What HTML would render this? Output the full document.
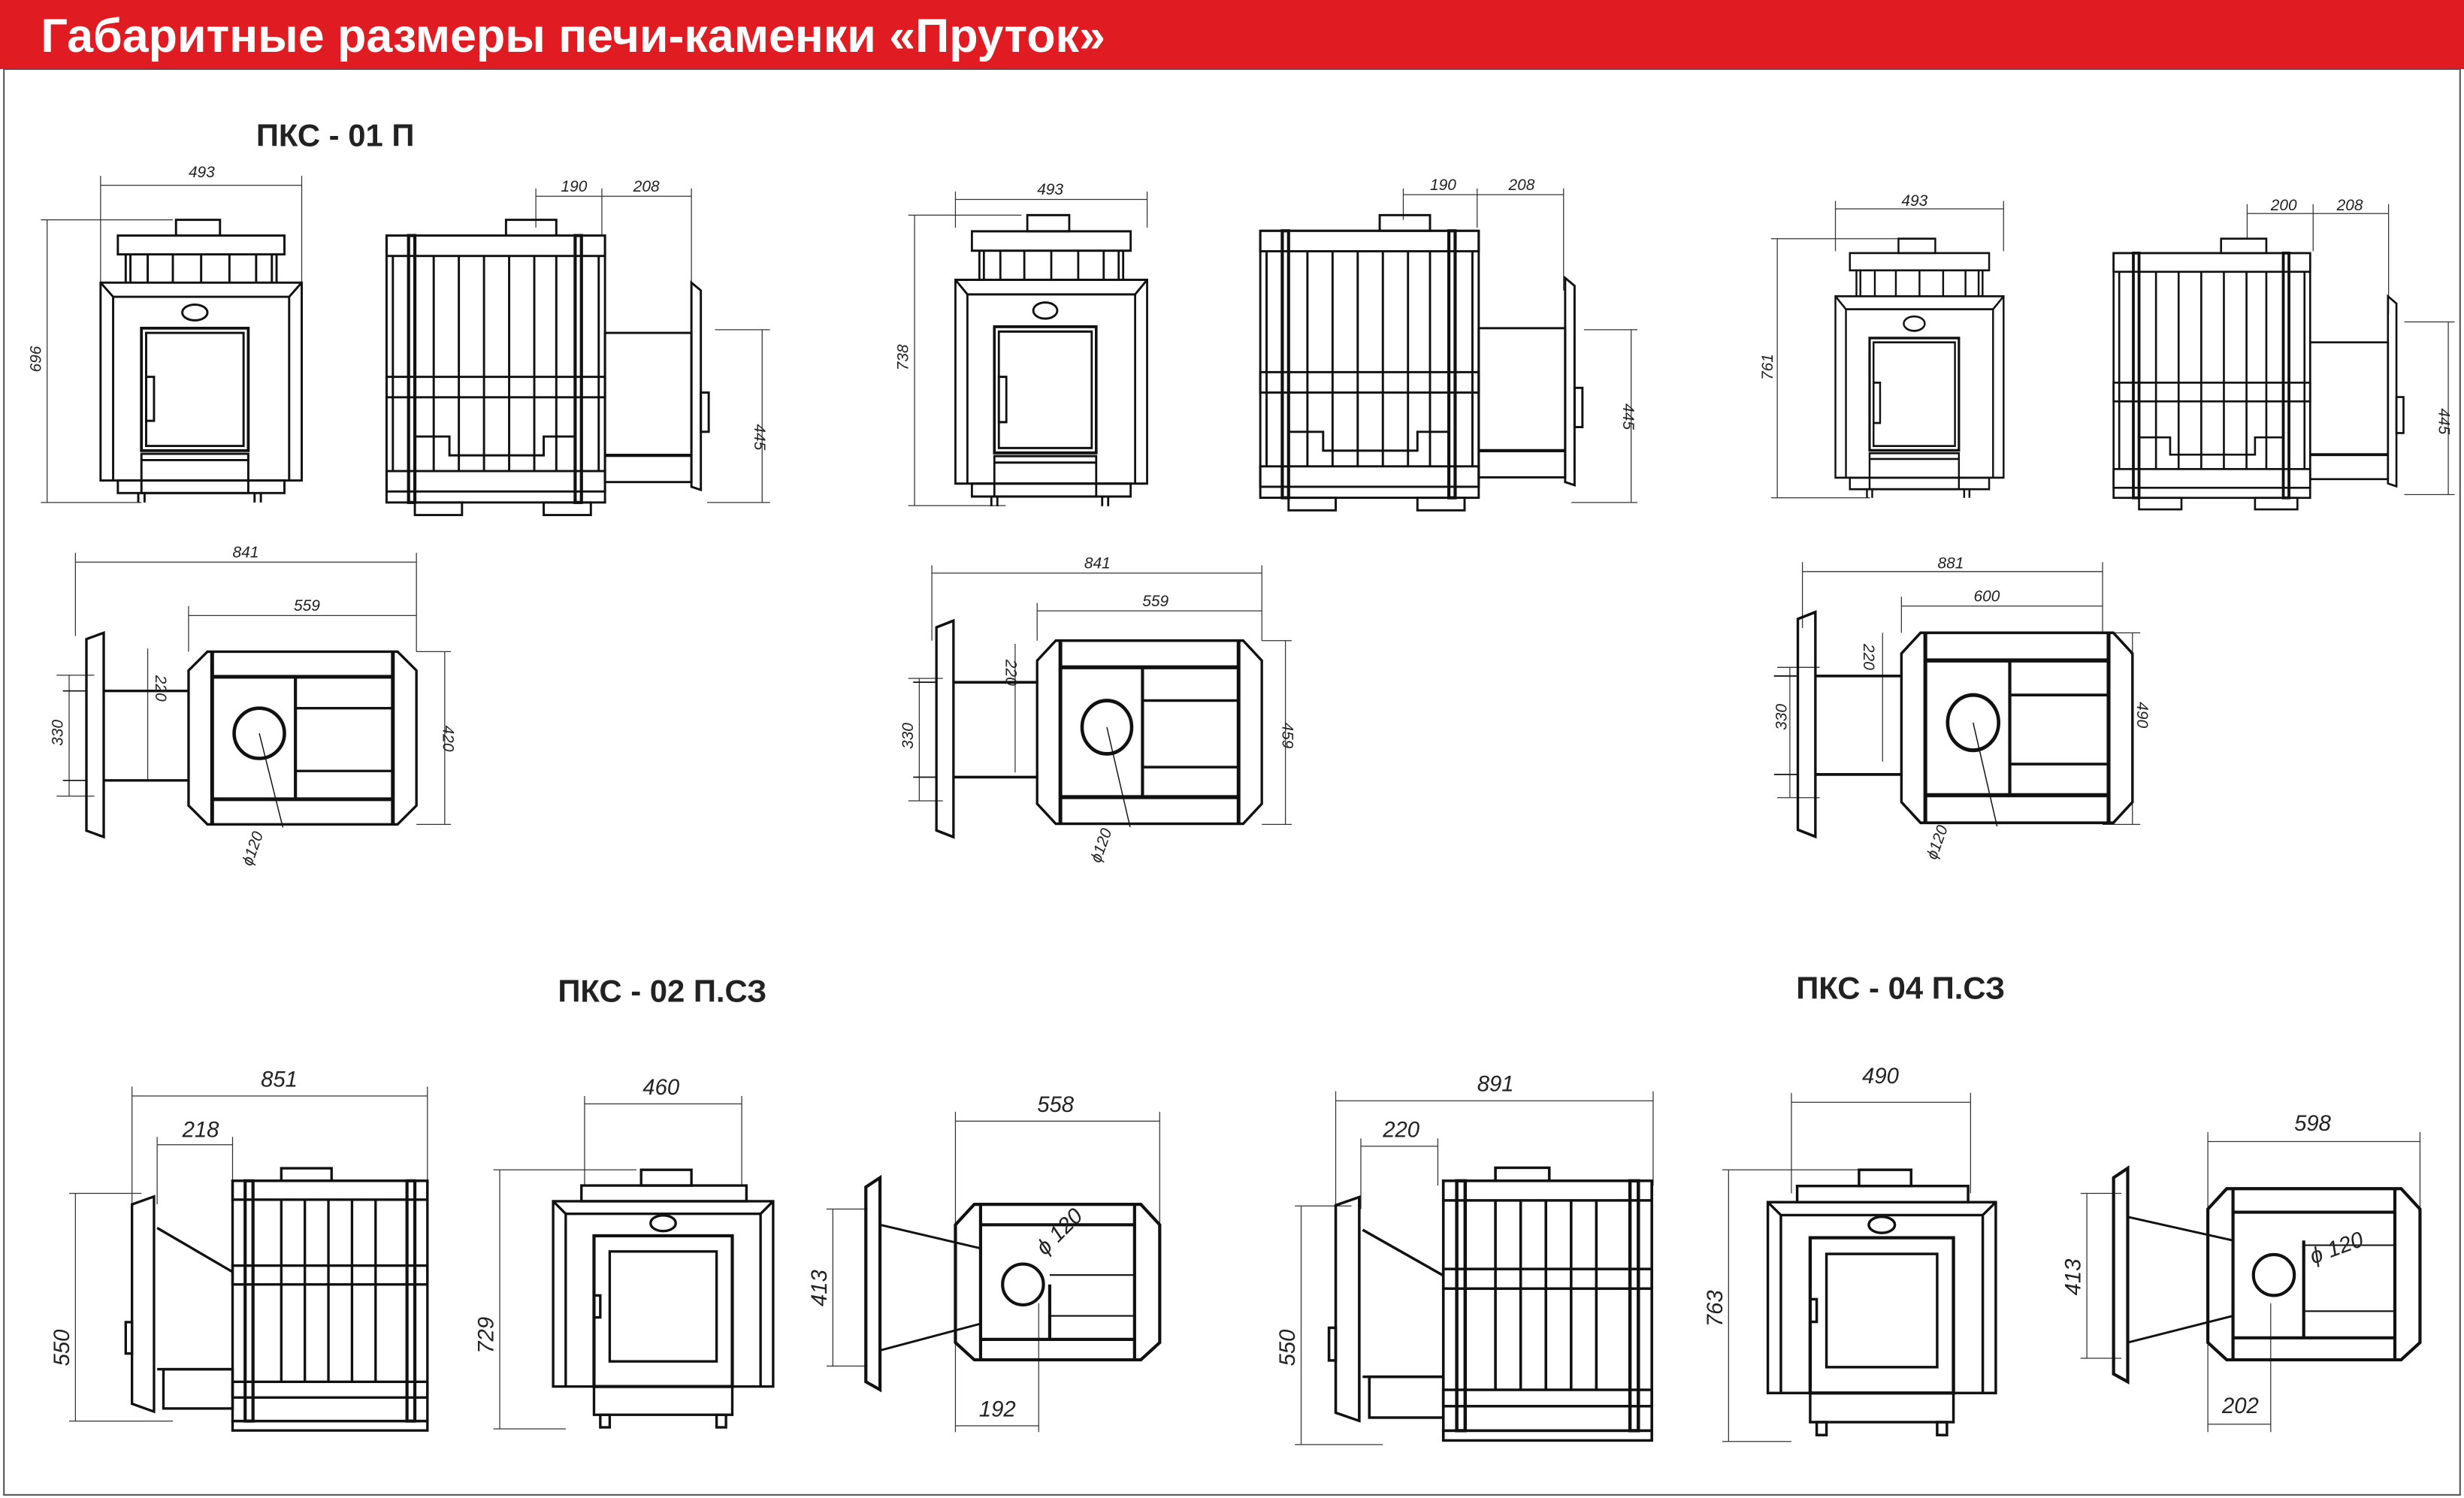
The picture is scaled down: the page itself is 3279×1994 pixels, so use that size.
<!DOCTYPE html>
<html><head><meta charset="utf-8"><style>
html,body{margin:0;padding:0;background:#fff;}
svg{display:block;}
text{font-family:"Liberation Sans",sans-serif;}
.d{font-style:italic;font-size:10px;fill:#222;}
.D{font-style:italic;font-size:14px;fill:#222;}
</style></head><body>
<svg width="3279" height="1994" viewBox="0 0 1568 954" preserveAspectRatio="none" xmlns="http://www.w3.org/2000/svg">
<defs>
<g id="front" fill="none" stroke="#111" stroke-width="1.4">
 <rect x="48" y="0" width="28" height="10"/>
 <rect x="11" y="10" width="106" height="12"/>
 <line x1="16" y1="22" x2="16" y2="40"/><line x1="19" y1="22" x2="19" y2="40"/><line x1="30" y1="22" x2="30" y2="40"/><line x1="46" y1="22" x2="46" y2="40"/><line x1="64" y1="22" x2="64" y2="40"/><line x1="82" y1="22" x2="82" y2="40"/><line x1="99" y1="22" x2="99" y2="40"/><line x1="109" y1="22" x2="109" y2="40"/><line x1="112" y1="22" x2="112" y2="40"/>
 <rect x="0" y="40" width="128" height="126"/>
 <polyline points="0,40 8,49 120,49 128,40"/>
 <line x1="8" y1="49" x2="8" y2="166"/><line x1="120" y1="49" x2="120" y2="166"/>
 <ellipse cx="60" cy="59" rx="8" ry="5"/>
 <rect x="26" y="69" width="68" height="78" stroke-width="1.8"/>
 <rect x="29" y="72" width="62" height="72"/>
 <rect x="29" y="100" width="5" height="28"/>
 <rect x="26" y="149" width="68" height="25"/>
 <line x1="26" y1="153" x2="94" y2="153"/>
 <rect x="11" y="166" width="106" height="8"/>
 <line x1="24" y1="174" x2="24" y2="180"/><line x1="28" y1="174" x2="28" y2="180"/><line x1="98" y1="174" x2="98" y2="180"/><line x1="102" y1="174" x2="102" y2="180"/>
</g>
<g id="side" fill="none" stroke="#111" stroke-width="1.4">
 <rect x="76" y="0" width="32" height="10"/>
 <rect x="0" y="10" width="139" height="170"/>
 <rect x="0" y="10" width="139" height="13"/>
 <rect x="0" y="100" width="139" height="13"/>
 <rect x="0" y="160" width="139" height="13"/>
 <rect x="14" y="10" width="4" height="170" stroke-width="2"/>
 <rect x="120" y="10" width="4" height="170" stroke-width="2"/>
 <line x1="30" y1="23" x2="30" y2="160"/><line x1="46" y1="23" x2="46" y2="160"/><line x1="62" y1="23" x2="62" y2="160"/><line x1="78" y1="23" x2="78" y2="160"/><line x1="94" y1="23" x2="94" y2="160"/><line x1="108" y1="23" x2="108" y2="160"/>
 <line x1="4" y1="23" x2="4" y2="160"/><line x1="135" y1="23" x2="135" y2="160"/>
 <polyline points="18,138 40,138 40,150 100,150 100,138 120,138"/>
 <rect x="139" y="72" width="55" height="95"/>
 <line x1="139" y1="150" x2="194" y2="150" stroke-width="2"/>
 <polygon points="194,40 200,45 200,172 194,170"/>
 <rect x="200" y="110" width="5" height="25"/>
 <rect x="18" y="180" width="30" height="8"/><rect x="100" y="180" width="30" height="8"/>
</g>
<g id="top" fill="none" stroke="#111" stroke-width="1.6">
 <polygon points="12,0 133,0 145,12 145,98 133,110 12,110 0,98 0,12"/>
 <line x1="15" y1="0" x2="15" y2="110" stroke-width="2.4"/><line x1="130" y1="0" x2="130" y2="110" stroke-width="2.4"/>
 <line x1="15" y1="16" x2="130" y2="16" stroke-width="2.4"/><line x1="15" y1="94" x2="130" y2="94" stroke-width="2.4"/>
 <line x1="68" y1="16" x2="68" y2="94" stroke-width="2"/>
 <line x1="68" y1="36" x2="130" y2="36"/><line x1="68" y1="76" x2="130" y2="76"/>
 <circle cx="45" cy="52" r="16" stroke-width="2.2"/>
 <line x1="45" y1="52" x2="60" y2="112" stroke-width="0.7"/>
 <polygon points="-65,-8 -54,-12 -54,118 -65,114"/>
 <line x1="-54" y1="25" x2="0" y2="25"/><line x1="-54" y1="82" x2="0" y2="82"/>
 <line x1="-80" y1="25" x2="-65" y2="25" stroke-width="0.8"/><line x1="-80" y1="82" x2="-65" y2="82" stroke-width="0.8"/>
</g>
<g id="front2" fill="none" stroke="#111" stroke-width="1.6">
 <rect x="56" y="0" width="32" height="10"/>
 <rect x="18" y="10" width="105" height="10"/>
 <rect x="0" y="20" width="140" height="118"/>
 <polyline points="0,20 8,28 132,28 140,20"/>
 <line x1="8" y1="28" x2="8" y2="138"/><line x1="132" y1="28" x2="132" y2="138"/>
 <ellipse cx="70" cy="34" rx="8" ry="5"/>
 <rect x="26" y="42" width="88" height="96" stroke-width="2"/>
 <rect x="36" y="52" width="68" height="70"/>
 <rect x="26" y="80" width="4" height="14"/>
 <rect x="26" y="138" width="88" height="18"/>
 <rect x="30" y="156" width="6" height="8"/><rect x="104" y="156" width="6" height="8"/>
</g>
<g id="side2" fill="none" stroke="#111" stroke-width="1.6">
 <rect x="95" y="-8" width="32" height="8"/>
 <rect x="64" y="0" width="124" height="153"/>
 <rect x="64" y="0" width="124" height="12"/>
 <rect x="64" y="54" width="124" height="12"/>
 <rect x="64" y="128" width="124" height="10"/>
 <rect x="72" y="0" width="5" height="153" stroke-width="2"/><rect x="175" y="0" width="5" height="153" stroke-width="2"/>
 <line x1="95" y1="12" x2="95" y2="128"/><line x1="110" y1="12" x2="110" y2="128"/><line x1="125" y1="12" x2="125" y2="128"/><line x1="140" y1="12" x2="140" y2="128"/><line x1="155" y1="12" x2="155" y2="128"/>
 <polyline points="16,30 64,58"/><polyline points="16,120 64,120"/>
 <rect x="20" y="120" width="44" height="25"/>
 <polygon points="0,15 14,10 14,147 0,142"/>
 <rect x="-4" y="90" width="4" height="20"/>
 <rect x="64" y="153" width="124" height="6"/>
</g>
</defs>

<rect x="0" y="0" width="1568" height="44" fill="#e11b22"/>
<text x="26" y="33" font-size="30" font-weight="bold" fill="#fff">Габаритные размеры печи-каменки «Пруток»</text>
<rect x="2.5" y="44" width="1563" height="908" fill="none" stroke="#555" stroke-width="1"/>

<text x="163" y="93" font-size="20" font-weight="bold" fill="#222">ПКС - 01 П</text>
<text x="355" y="638" font-size="20" font-weight="bold" fill="#222">ПКС - 02 П.СЗ</text>
<text x="1143" y="636" font-size="20" font-weight="bold" fill="#222">ПКС - 04 П.СЗ</text>

<g stroke="#333" stroke-width="0.6" fill="none">
<!-- stove1 dims -->
<line x1="64" y1="118" x2="192" y2="118"/><line x1="64" y1="112" x2="64" y2="180"/><line x1="192" y1="112" x2="192" y2="180"/>
<line x1="30" y1="140" x2="30" y2="320"/><line x1="26" y1="140" x2="110" y2="140"/><line x1="26" y1="320" x2="90" y2="320"/>
<line x1="341" y1="125" x2="383" y2="125"/><line x1="383" y1="125" x2="440" y2="125"/><line x1="341" y1="120" x2="341" y2="145"/><line x1="383" y1="120" x2="383" y2="150"/><line x1="440" y1="120" x2="440" y2="180"/>
<line x1="485" y1="210" x2="485" y2="320"/><line x1="455" y1="210" x2="490" y2="210"/><line x1="450" y1="320" x2="490" y2="320"/>
<!-- stove2 dims -->
<line x1="608" y1="127" x2="730" y2="127"/><line x1="608" y1="122" x2="608" y2="145"/><line x1="730" y1="122" x2="730" y2="145"/>
<line x1="582" y1="137" x2="582" y2="322"/><line x1="578" y1="137" x2="650" y2="137"/><line x1="578" y1="322" x2="640" y2="322"/>
<line x1="893" y1="124" x2="940" y2="124"/><line x1="940" y1="124" x2="995" y2="124"/><line x1="893" y1="120" x2="893" y2="140"/><line x1="940" y1="120" x2="940" y2="145"/><line x1="995" y1="120" x2="995" y2="185"/>
<line x1="1038" y1="210" x2="1038" y2="320"/><line x1="1008" y1="210" x2="1042" y2="210"/><line x1="1000" y1="320" x2="1042" y2="320"/>
<!-- stove3 dims -->
<line x1="1168" y1="133" x2="1275" y2="133"/><line x1="1168" y1="128" x2="1168" y2="160"/><line x1="1275" y1="128" x2="1275" y2="160"/>
<line x1="1131" y1="152" x2="1131" y2="317"/><line x1="1127" y1="152" x2="1210" y2="152"/><line x1="1127" y1="317" x2="1190" y2="317"/>
<line x1="1430" y1="136" x2="1472" y2="136"/><line x1="1472" y1="136" x2="1520" y2="136"/><line x1="1430" y1="130" x2="1430" y2="152"/><line x1="1472" y1="130" x2="1472" y2="160"/><line x1="1520" y1="130" x2="1520" y2="200"/>
<line x1="1558" y1="205" x2="1558" y2="315"/><line x1="1530" y1="205" x2="1562" y2="205"/><line x1="1530" y1="315" x2="1562" y2="315"/>
<!-- top views dims -->
<line x1="48" y1="358" x2="265" y2="358"/><line x1="48" y1="352" x2="48" y2="405"/><line x1="265" y1="352" x2="265" y2="415"/>
<line x1="120" y1="392" x2="265" y2="392"/><line x1="120" y1="386" x2="120" y2="415"/>
<line x1="94" y1="413" x2="94" y2="497"/><line x1="44" y1="430" x2="44" y2="507"/><line x1="36" y1="430" x2="60" y2="430"/><line x1="36" y1="507" x2="60" y2="507"/>
<line x1="283" y1="415" x2="283" y2="525"/><line x1="265" y1="415" x2="287" y2="415"/><line x1="265" y1="525" x2="287" y2="525"/>
<line x1="593" y1="365" x2="803" y2="365"/><line x1="593" y1="360" x2="593" y2="408"/><line x1="803" y1="360" x2="803" y2="408"/>
<line x1="660" y1="389" x2="803" y2="389"/><line x1="660" y1="384" x2="660" y2="408"/>
<line x1="646" y1="410" x2="646" y2="492"/><line x1="585" y1="432" x2="585" y2="510"/><line x1="578" y1="432" x2="600" y2="432"/><line x1="578" y1="510" x2="600" y2="510"/>
<line x1="818" y1="408" x2="818" y2="525"/><line x1="803" y1="408" x2="822" y2="408"/><line x1="803" y1="525" x2="822" y2="525"/>
<line x1="1147" y1="364" x2="1338" y2="364"/><line x1="1147" y1="358" x2="1147" y2="400"/><line x1="1338" y1="358" x2="1338" y2="403"/>
<line x1="1210" y1="386" x2="1338" y2="386"/><line x1="1210" y1="380" x2="1210" y2="403"/>
<line x1="1198" y1="403" x2="1198" y2="485"/><line x1="1139" y1="425" x2="1139" y2="508"/><line x1="1131" y1="425" x2="1158" y2="425"/><line x1="1131" y1="508" x2="1158" y2="508"/>
<line x1="1357" y1="403" x2="1357" y2="525"/><line x1="1338" y1="403" x2="1362" y2="403"/><line x1="1338" y1="525" x2="1362" y2="525"/>
<!-- bottom dims 02 -->
<line x1="84" y1="698" x2="272" y2="698"/><line x1="84" y1="692" x2="84" y2="767"/><line x1="272" y1="692" x2="272" y2="752"/>
<line x1="100" y1="729" x2="148" y2="729"/><line x1="100" y1="724" x2="100" y2="767"/><line x1="148" y1="724" x2="148" y2="752"/>
<line x1="48" y1="760" x2="48" y2="905"/><line x1="44" y1="760" x2="90" y2="760"/><line x1="44" y1="905" x2="110" y2="905"/>
<line x1="372" y1="703" x2="472" y2="703"/><line x1="372" y1="698" x2="372" y2="755"/><line x1="472" y1="698" x2="472" y2="755"/>
<line x1="318" y1="745" x2="318" y2="910"/><line x1="314" y1="745" x2="405" y2="745"/><line x1="314" y1="910" x2="360" y2="910"/>
<line x1="608" y1="714" x2="738" y2="714"/><line x1="608" y1="708" x2="608" y2="912"/><line x1="738" y1="708" x2="738" y2="800"/>
<line x1="608" y1="908" x2="661" y2="908"/><line x1="661" y1="830" x2="661" y2="912"/>
<line x1="530" y1="770" x2="530" y2="870"/><line x1="526" y1="770" x2="552" y2="770"/><line x1="526" y1="870" x2="552" y2="870"/>
<!-- bottom dims 04 -->
<line x1="850" y1="701" x2="1052" y2="701"/><line x1="850" y1="695" x2="850" y2="770"/><line x1="1052" y1="695" x2="1052" y2="755"/>
<line x1="866" y1="730" x2="915" y2="730"/><line x1="866" y1="725" x2="866" y2="770"/><line x1="915" y1="725" x2="915" y2="755"/>
<line x1="828" y1="768" x2="828" y2="920"/><line x1="824" y1="768" x2="860" y2="768"/><line x1="824" y1="920" x2="880" y2="920"/>
<line x1="1140" y1="702" x2="1254" y2="702"/><line x1="1140" y1="696" x2="1140" y2="760"/><line x1="1254" y1="696" x2="1254" y2="760"/>
<line x1="1100" y1="745" x2="1100" y2="918"/><line x1="1096" y1="745" x2="1190" y2="745"/><line x1="1096" y1="918" x2="1140" y2="918"/>
<line x1="1405" y1="727" x2="1540" y2="727"/><line x1="1405" y1="721" x2="1405" y2="912"/><line x1="1540" y1="721" x2="1540" y2="780"/>
<line x1="1405" y1="907" x2="1445" y2="907"/><line x1="1445" y1="830" x2="1445" y2="912"/>
<line x1="1328" y1="760" x2="1328" y2="865"/><line x1="1324" y1="760" x2="1350" y2="760"/><line x1="1324" y1="865" x2="1350" y2="865"/>
</g>

<use href="#front" transform="translate(64,140)"/>
<use href="#side" transform="translate(246,140)"/>
<use href="#front" transform="translate(608,137) scale(0.953,1.03)"/>
<use href="#side" transform="translate(802,137) scale(1.0,1.0)"/>
<use href="#front" transform="translate(1168,152) scale(0.836,0.917)"/>
<use href="#side" transform="translate(1345,152) scale(0.9,0.917)"/>

<use href="#top" transform="translate(120,415)"/>
<use href="#top" transform="translate(660,408) scale(0.986,1.06)"/>
<use href="#top" transform="translate(1210,403) scale(1.014,1.1)"/>

<use href="#side2" transform="translate(84,752)"/>
<use href="#front2" transform="translate(352,745)"/>
<use href="#side2" transform="translate(850,752) scale(1.07,1.04)"/>
<use href="#front2" transform="translate(1125,745) scale(1.036,1.03)"/>

<g fill="none" stroke="#111" stroke-width="2">
 <polygon points="620,767 726,767 738,780 738,855 726,866 620,866 608,855 608,780"/>
 <line x1="624" y1="767" x2="624" y2="866"/><line x1="722" y1="767" x2="722" y2="866"/>
 <line x1="624" y1="780" x2="722" y2="780"/><line x1="624" y1="853" x2="722" y2="853"/>
 <line x1="668" y1="818" x2="668" y2="853"/><line x1="668" y1="812" x2="722" y2="812" stroke-width="1"/><line x1="668" y1="838" x2="722" y2="838" stroke-width="1"/>
 <circle cx="651" cy="818" r="13"/>
 <polygon points="551,756 560,750 560,885 551,880"/>
 <line x1="560" y1="780" x2="624" y2="795" stroke-width="1.4"/><line x1="560" y1="860" x2="624" y2="843" stroke-width="1.4"/>
 <polygon points="1417,757 1528,757 1540,770 1540,855 1528,866 1417,866 1405,855 1405,770"/>
 <line x1="1421" y1="757" x2="1421" y2="866"/><line x1="1524" y1="757" x2="1524" y2="866"/>
 <line x1="1421" y1="772" x2="1524" y2="772"/><line x1="1421" y1="852" x2="1524" y2="852"/>
 <line x1="1466" y1="790" x2="1466" y2="852"/><line x1="1466" y1="793" x2="1524" y2="793" stroke-width="1"/><line x1="1466" y1="835" x2="1524" y2="835" stroke-width="1"/>
 <circle cx="1447" cy="812" r="13"/>
 <polygon points="1345,750 1354,744 1354,880 1345,875"/>
 <line x1="1354" y1="775" x2="1421" y2="790" stroke-width="1.4"/><line x1="1354" y1="855" x2="1421" y2="838" stroke-width="1.4"/>
</g>

<g class="d">
<text x="120" y="113">493</text><text x="357" y="122">190</text><text x="403" y="122">208</text>
<text transform="translate(26,237) rotate(-90)">696</text><text transform="translate(480,270) rotate(90)">445</text>
<text x="660" y="124">493</text><text x="910" y="121">190</text><text x="960" y="121">208</text>
<text transform="translate(578,236) rotate(-90)">738</text><text transform="translate(1033,257) rotate(90)">445</text>
<text x="1210" y="131">493</text><text x="1445" y="134">200</text><text x="1487" y="134">208</text>
<text transform="translate(1128,242) rotate(-90)">761</text><text transform="translate(1552,260) rotate(90)">445</text>
<text x="148" y="355">841</text><text x="187" y="389">559</text>
<text transform="translate(99,430) rotate(90)">220</text><text transform="translate(40,475) rotate(-90)">330</text><text transform="translate(282,462) rotate(90)">420</text>
<text transform="translate(160,552) rotate(-70)">ϕ120</text>
<text x="690" y="362">841</text><text x="727" y="386">559</text>
<text transform="translate(640,420) rotate(90)">220</text><text transform="translate(581,477) rotate(-90)">330</text><text transform="translate(816,460) rotate(90)">459</text>
<text transform="translate(700,550) rotate(-70)">ϕ120</text>
<text x="1233" y="362">881</text><text x="1256" y="383">600</text>
<text transform="translate(1186,410) rotate(90)">220</text><text transform="translate(1137,465) rotate(-90)">330</text><text transform="translate(1360,447) rotate(90)">490</text>
<text transform="translate(1232,548) rotate(-70)">ϕ120</text>
</g>
<g class="D">
<text x="166" y="692">851</text><text x="116" y="724">218</text>
<text transform="translate(44,870) rotate(-90)">550</text>
<text x="409" y="697">460</text><text transform="translate(314,862) rotate(-90)">729</text>
<text x="660" y="708">558</text><text x="623" y="902">192</text>
<text transform="translate(526,832) rotate(-90)">413</text>
<text transform="translate(665,800) rotate(-45)">ϕ 120</text>
<text x="940" y="695">891</text><text x="880" y="724">220</text>
<text transform="translate(824,870) rotate(-90)">550</text>
<text x="1185" y="690">490</text><text transform="translate(1096,845) rotate(-90)">763</text>
<text x="1460" y="720">598</text><text x="1414" y="900">202</text>
<text transform="translate(1324,825) rotate(-90)">413</text>
<text transform="translate(1472,805) rotate(-20)">ϕ 120</text>
</g>
</svg>
</body></html>
